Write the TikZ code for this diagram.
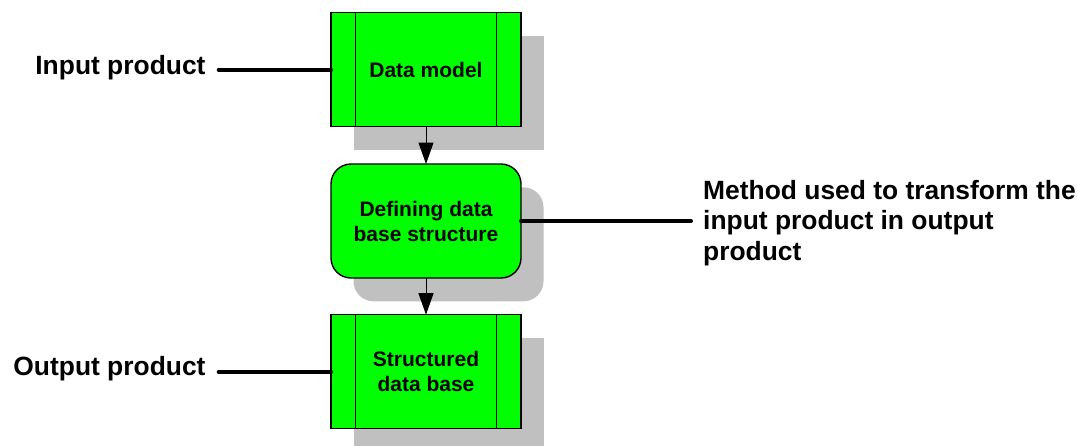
\documentclass[tikz,border=0pt]{standalone}
\usepackage{fontspec}
\setmainfont{Liberation Sans}
\usetikzlibrary{arrows.meta,shadows}

\definecolor{boxgreen}{HTML}{00FF00}
\definecolor{shadowgray}{HTML}{C0C0C0}

\newcommand{\boxtextfont}{\fontsize{21}{25}\selectfont\bfseries}
\newcommand{\labeltextfont}{\fontsize{26.4}{30.5}\selectfont\bfseries}

\begin{document}
\begin{tikzpicture}[x=1pt,y=-1pt,
  boxshadow/.style={general shadow={shadow xshift=22.5pt,shadow yshift=-23.3pt,fill=shadowgray}},
  storebox/.style={draw=black,line width=1.4pt,fill=boxgreen,minimum width=190pt,
    minimum height=114pt,inner sep=0pt,outer sep=0pt,align=center,font=\boxtextfont,boxshadow},
  procbox/.style={storebox,rounded corners=20pt},
  flow/.style={line width=1pt,-{Triangle[length=21.5pt,width=15pt]}},
  tie/.style={line width=4pt,line cap=round},
  lbl/.style={inner sep=0pt,font=\labeltextfont,align=left}
]
\useasboundingbox (0,0) rectangle (1077,445);

% the three stages of the process
\node[storebox] (dm)  at (426,69.7)  {Data model};
\node[procbox]  (dbs) at (426,221)   {Defining data\\base structure};
\node[storebox] (sdb) at (426,371.7) {Structured\\data base};

% side bars of the data-store boxes
\foreach \n in {dm,sdb}{
  \draw[line width=1.4pt] ([xshift=24.3pt]\n.north west) -- ([xshift=24.3pt]\n.south west);
  \draw[line width=1.4pt] ([xshift=-24.3pt]\n.north east) -- ([xshift=-24.3pt]\n.south east);
}

% flow between stages
\draw[flow] (dm) -- (dbs);
\draw[flow] (dbs) -- (sdb);

% labels
\node[lbl,anchor=base east] (inp)  at (205.7,74.3)  {Input product};
\node[lbl,anchor=base east] (outp) at (205.7,375.7) {Output product};
\node[lbl,anchor=north west] (meth) at (703,179.7)
  {Method used to transform the\\input product in output\\product};

% label ties
\coordinate (inend)   at ([xshift=13pt]inp.east);
\coordinate (outend)  at ([xshift=13pt]outp.east);
\coordinate (methend) at ([xshift=-12pt]meth.west);
\draw[tie] (inend |- dm.west) -- (dm.west);
\draw[tie] (outend |- sdb.west) -- (sdb.west);
\draw[tie] (dbs.east) -- (methend |- dbs.east);
\end{tikzpicture}
\end{document}
